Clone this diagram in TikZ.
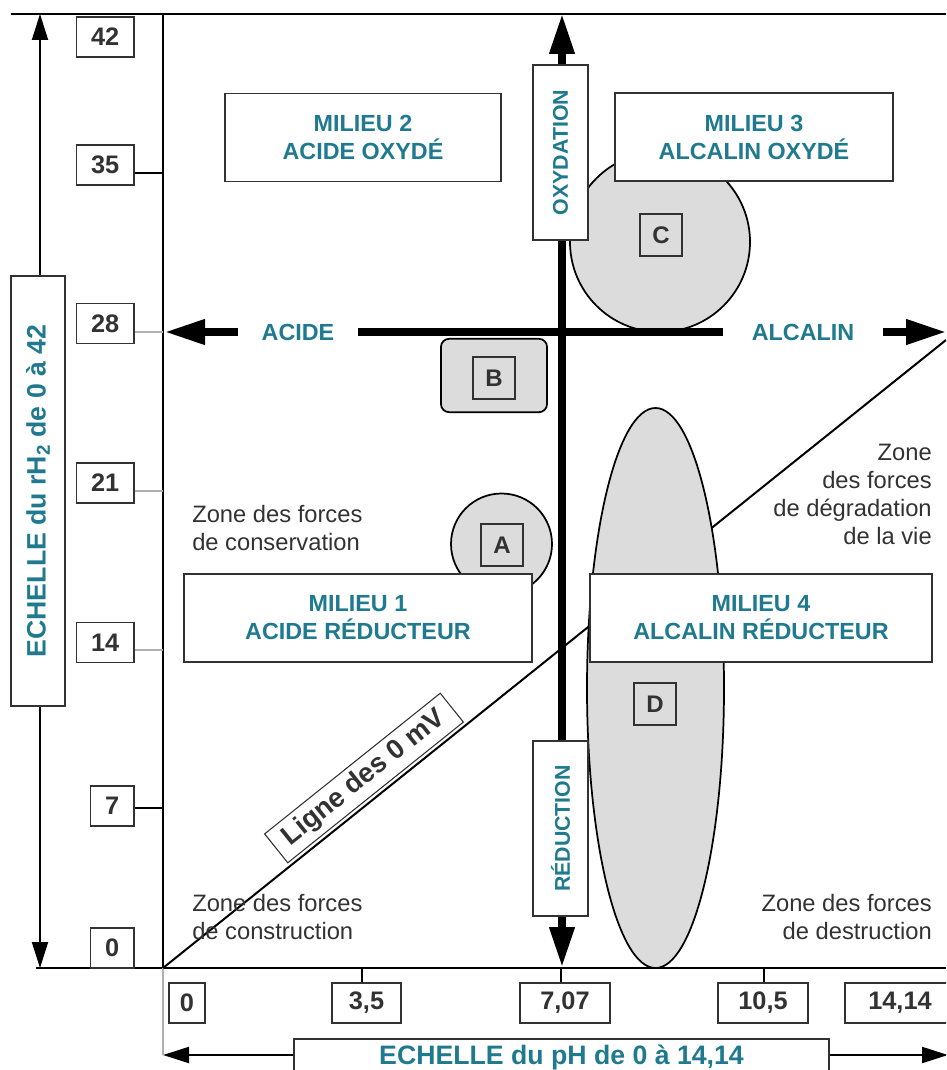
\documentclass[tikz,border=0pt]{standalone}
\usepackage{fontspec}
\setmainfont{Liberation Sans}
\usepackage{xcolor}
\usepackage{tikz}
\usetikzlibrary{arrows.meta}
\usetikzlibrary{shapes.geometric}
\definecolor{bleu}{RGB}{31,122,143}
\definecolor{encre}{RGB}{50,50,50}
\definecolor{fond}{RGB}{220,220,220}
\definecolor{trait}{RGB}{176,176,176}

\begin{document}
\begin{tikzpicture}[x=0.75pt,y=-0.75pt,
  cadre/.style={line width=1.5pt},
  forme/.style={draw=black, line width=1.3pt, fill=fond, inner sep=0pt},
  axe/.style={line width=5.5pt, {Triangle[length=30pt,width=18pt]}-{Triangle[length=30pt,width=18pt]}},
  echelle/.style={line width=1.5pt, {Triangle[length=19.5pt,width=12pt]}-{Triangle[length=19.5pt,width=12pt]}},
  milieu/.style={draw=encre, line width=0.8pt, fill=white, text=bleu, align=center, minimum height=66pt, font=\fontsize{17.5}{21}\selectfont\bfseries},
  sens/.style={draw=encre, line width=0.8pt, fill=white, text=bleu, rotate=90, minimum width=131.25pt, minimum height=41.25pt, font=\fontsize{16}{19}\selectfont\bfseries},
  direction/.style={fill=white, text=bleu, inner sep=1pt, minimum height=10pt, font=\fontsize{17.5}{21}\selectfont\bfseries},
  valeur/.style={draw=encre, line width=0.8pt, fill=white, text=encre, minimum height=30pt, inner xsep=11pt, font=\fontsize{19}{22}\selectfont\bfseries},
  lettre/.style={draw=encre, line width=0.8pt, fill=fond, text=encre, minimum size=31.5pt, font=\fontsize{18}{22}\selectfont\bfseries},
  legende/.style={draw=encre, line width=0.8pt, fill=white, text=bleu, font=\fontsize{20}{24}\selectfont\bfseries},
  zone/.style={text=encre, inner sep=0pt, font=\fontsize{17.8}{21}\selectfont}]
  \useasboundingbox (0,0) rectangle (946,1070);
  \clip (0,0) rectangle (946,1070);

  \coordinate (O) at (163,968);
  \coordinate (haut) at (163,14);
  \coordinate (hautG) at (11,14);
  \coordinate (hautD) at (946,14);
  \coordinate (basG) at (36,968);
  \coordinate (basD) at (946,968);
  \coordinate (rhH) at (40,14);
  \coordinate (rhB) at (40,968);
  \coordinate (phG) at (163,1055);
  \coordinate (phD) at (948,1055);
  \coordinate (zero) at (946,340);
  \coordinate (oxH) at (562,14);
  \coordinate (redB) at (562,967);
  \coordinate (acG) at (165,332);
  \coordinate (alD) at (946,332);

  \draw[cadre] (hautG) -- (hautD) (basG) -- (basD) (haut) -- (O);
  \draw[echelle] (rhH) -- (rhB);
  \draw[echelle] (phG) -- (phD);
  \draw[cadre, trait] (O) -- (phG);
  \draw[cadre] (O) -- (zero);

  \node[forme, circle, minimum size=75.75pt] (cercleA) at (501.5,544) {};
  \node[forme, circle, minimum size=135pt] (cercleC) at (660,242) {};
  \node[forme, ellipse, minimum width=102.75pt, minimum height=420pt] (ellipseD) at (655.5,688) {};
  \node[forme, rounded corners=6pt, minimum width=79.5pt, minimum height=55pt] (cadreB) at (494,375.5) {};

  \draw[axe] (acG) -- (alD);
  \draw[axe] (oxH) -- (redB);
  \node[direction, minimum width=90pt] (acide) at (298,332) {ACIDE};
  \node[direction, minimum width=120pt] (alcalin) at (803,332) {ALCALIN};
  \node[sens] (oxydation) at (560.5,152.5) {OXYDATION};
  \node[sens] (reduction) at (560.5,828.5) {RÉDUCTION};

  \node[milieu, minimum width=207pt] (m2) at (363,137.5) {MILIEU 2\\ACIDE OXYDÉ};
  \node[milieu, minimum width=208.5pt] (m3) at (754,137) {MILIEU 3\\ALCALIN OXYDÉ};
  \node[milieu, minimum width=261pt] (m1) at (358,618) {MILIEU 1\\ACIDE RÉDUCTEUR};
  \node[milieu, minimum width=256.5pt] (m4) at (761,618) {MILIEU 4\\ALCALIN RÉDUCTEUR};

  \node[lettre] (A) at (502,545) {A};
  \node[lettre] (B) at (494,378) {B};
  \node[lettre] (C) at (661,235) {C};
  \node[lettre] (D) at (655,704) {D};

  \foreach \v/\y in {42/37,35/165,28/323.5,21/483,14/642.5,7/806,0/948}
    \node[valeur, anchor=east] (y\v) at (134.5,\y) {\v};
  \foreach \v/\y/\c in {35/173/black,28/332/trait,21/491/trait,14/650/trait,7/808/black}
  {
    \coordinate (t\v) at (163,\y);
    \draw[cadre, \c] (y\v.east |- t\v) -- (t\v);
  }

  \foreach \n/\t/\x/\w in {0/0/187/36,35/{3,5}/366.5/69,707/{7,07}/565/90,105/{10,5}/763/90,1414/{14,14}/900/110}
    \node[valeur, inner xsep=2pt, minimum width=\w*0.75] (x\n) at (\x,1003) {\t};
  \foreach \n/\x in {35/362,707/561,105/764}
  {
    \coordinate (u\n) at (\x,968);
    \draw[cadre] (u\n) -- (u\n |- x\n.north);
  }

  \node[legende, rotate=90, minimum width=322.5pt, minimum height=40.5pt] (echrh) at (38,491) {ECHELLE du rH\textsubscript{2} de 0 à 42};
  \node[legende, minimum width=401.25pt, minimum height=27pt] (echph) at (561.5,1057) {ECHELLE du pH de 0 à 14,14};

  \node[valeur, rotate=38.7, inner sep=0pt, minimum width=168.75pt, minimum height=27.75pt, font=\fontsize{20.5}{22}\selectfont\bfseries] (ligne) at (364,778) {Ligne des 0 mV};

  \node[zone, anchor=west, align=left] (zcons) at (192,528) {Zone des forces\\de conservation};
  \node[zone, anchor=west, align=left] (zconst) at (192,917) {Zone des forces\\de construction};
  \node[zone, anchor=east, align=right] (zdest) at (932,917) {Zone des forces\\de destruction};
  \node[zone, anchor=east, align=right] (zdeg) at (932,494) {Zone\\des forces\\de dégradation\\de la vie};
\end{tikzpicture}
\end{document}
